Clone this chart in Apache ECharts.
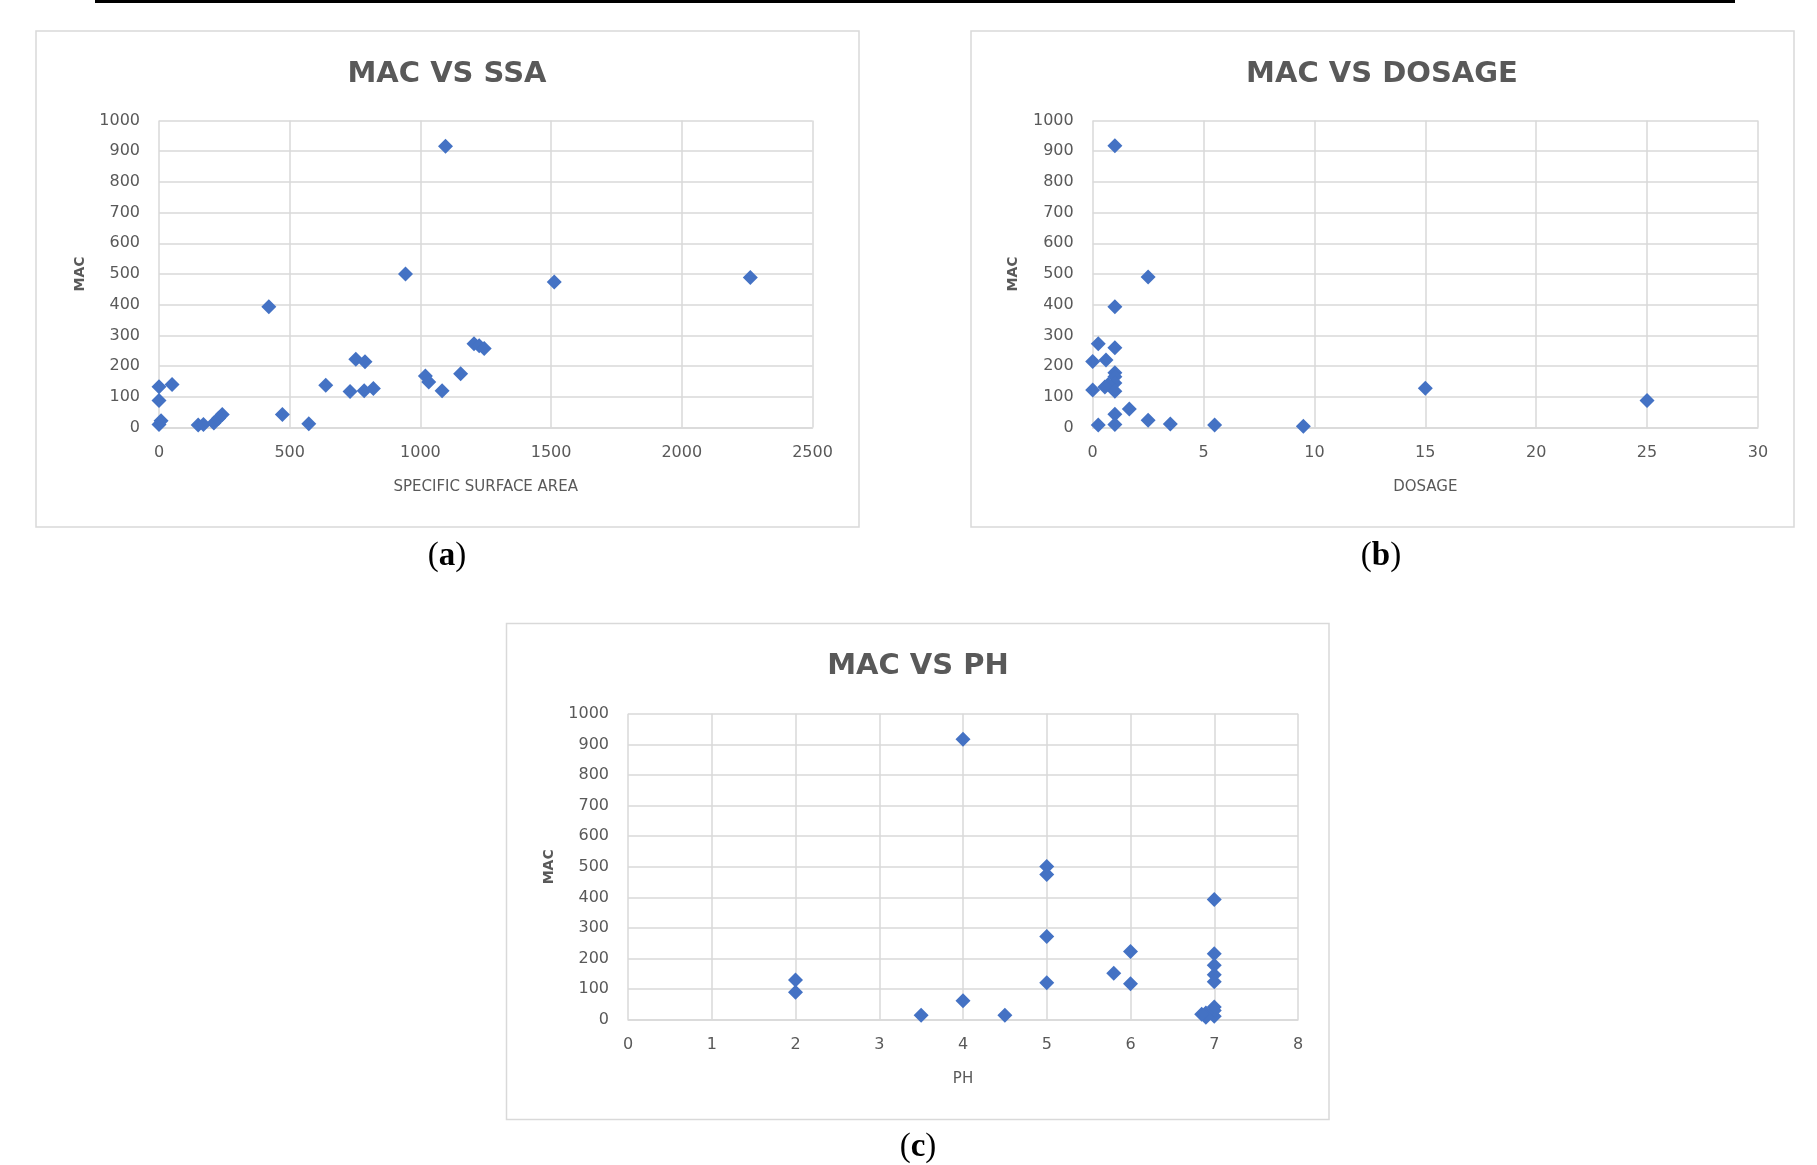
<!DOCTYPE html>
<html>
<head>
<meta charset="utf-8">
<script src="https://cdn.jsdelivr.net/npm/echarts@6/dist/echarts.min.js"></script>
<style>
html,body{margin:0;padding:0;background:#fff;}
#chart{width:1817px;height:1165px;}
</style>
</head>
<body>
<div id="chart"></div>
<script>
// Panel (a): MAC vs specific surface area
const ssaValues = [0, 0, 50, 0, 8, 150, 170, 210, 228, 242, 420, 472, 573, 638, 731, 753, 788, 785, 820, 943, 1019, 1032, 1083, 1096, 1154, 1205, 1225, 1244, 1512, 2262];
const ssaMac    = [133, 88, 140, 10, 22, 8, 10, 15, 30, 42, 393, 42, 12, 138, 117, 222, 214, 120, 127, 500, 168, 148, 120, 916, 175, 273, 266, 257, 474, 489];
// Panel (b): MAC vs dosage
const dosageValues = [1, 2.5, 1, 0.25, 1, 0.6, 0, 1, 1, 1, 0.7, 0.55, 0, 1, 15, 25, 1.65, 1, 2.5, 3.5, 0.25, 5.5, 1, 9.5];
const dosageMac    = [918, 490, 393, 273, 260, 220, 215, 178, 165, 145, 140, 132, 122, 118, 128, 88, 60, 43, 24, 11, 8, 8, 10, 4];
// Panel (c): MAC vs pH
const phValues = [2, 2, 3.5, 4, 4, 4.5, 5, 5, 5, 5, 5.8, 6, 6, 7, 7, 7, 7, 7, 7, 7, 7, 6.9, 6.9, 6.85];
const phMac    = [130, 90, 15, 917, 62, 15, 501, 475, 272, 121, 152, 223, 118, 393, 216, 178, 147, 124, 42, 12, 30, 22, 8, 18];

const panelTitles = ['MAC VS SSA', 'MAC VS DOSAGE', 'MAC VS PH'];
const xNames = ['SPECIFIC SURFACE AREA', 'DOSAGE', 'PH'];
const yName = 'MAC';
const captions = ['a', 'b', 'c'];
const xRanges = [[0, 2500, 500], [0, 30, 5], [0, 8, 1]];
const yRange = [0, 1000, 100];

const pairs = (xs, ys) => xs.map((x, i) => [x, ys[i]]);
const seriesData = [pairs(ssaValues, ssaMac), pairs(dosageValues, dosageMac), pairs(phValues, phMac)];

const grids = [
  {left: 159, top: 120.5, width: 653.5, height: 307},
  {left: 1092.7, top: 120.5, width: 665.2, height: 307},
  {left: 628, top: 713.8, width: 670, height: 306}
];
const boxes = [
  {x: 36, y: 31, w: 823, h: 496},
  {x: 971, y: 31, w: 823, h: 496},
  {x: 506.5, y: 623.5, w: 822.5, h: 496}
];
const titlePos = [[447, 74], [1382, 74], [918, 666]];
const captionPos = [[447, 556], [1381, 556], [918, 1147]];

const gridColor = '#D9D9D9';
const labelColor = '#595959';

const chart = echarts.init(document.getElementById('chart'), null, {renderer: 'canvas'});

const graphic = [];
graphic.push({type: 'line', shape: {x1: 95, y1: 1.5, x2: 1735, y2: 1.5}, style: {stroke: '#000', lineWidth: 3}, z: 1});
boxes.forEach(b => graphic.push({type: 'rect', shape: {x: b.x, y: b.y, width: b.w, height: b.h}, style: {fill: 'none', stroke: gridColor, lineWidth: 1.5}, z: 1}));
panelTitles.forEach((t, i) => graphic.push({
  type: 'text', x: titlePos[i][0], y: titlePos[i][1], z: 5,
  style: {text: t, fill: labelColor, font: 'bold 29px "DejaVu Sans"', align: 'center', verticalAlign: 'middle'}
}));
captions.forEach((c, i) => graphic.push({
  type: 'text', x: captionPos[i][0], y: captionPos[i][1], z: 5,
  style: {
    text: '{p|(}{b|' + c + '}{p|)}', align: 'center', verticalAlign: 'middle',
    rich: {
      p: {fontFamily: 'Liberation Serif', fontSize: 33, color: '#111'},
      b: {fontFamily: 'Liberation Serif', fontSize: 33, fontWeight: 'bold', color: '#111'}
    }
  }
}));

const option = {
  backgroundColor: '#ffffff',
  animation: false,
  grid: grids,
  xAxis: xRanges.map((r, i) => ({
    type: 'value', gridIndex: i, min: r[0], max: r[1], interval: r[2],
    name: xNames[i], nameLocation: 'middle', nameGap: 52,
    nameTextStyle: {color: labelColor, fontFamily: 'DejaVu Sans', fontSize: 15},
    axisLine: {show: true, lineStyle: {color: gridColor, width: 1.5}},
    axisTick: {show: false},
    axisLabel: {color: labelColor, fontFamily: 'DejaVu Sans', fontSize: 16, margin: 17, formatter: v => String(v)},
    splitLine: {show: true, lineStyle: {color: gridColor, width: 1.5}}
  })),
  yAxis: [0, 1, 2].map(i => ({
    type: 'value', gridIndex: i, min: yRange[0], max: yRange[1], interval: yRange[2],
    name: yName, nameLocation: 'middle', nameGap: 72, nameRotate: 90,
    nameTextStyle: {color: labelColor, fontFamily: 'DejaVu Sans', fontSize: 14, fontWeight: 'bold'},
    axisLine: {show: false},
    axisTick: {show: false},
    axisLabel: {color: labelColor, fontFamily: 'DejaVu Sans', fontSize: 16, margin: 19, formatter: v => String(v)},
    splitLine: {show: true, lineStyle: {color: gridColor, width: 1.5}}
  })),
  series: seriesData.map((d, i) => ({
    type: 'scatter', xAxisIndex: i, yAxisIndex: i, data: d,
    symbol: 'diamond', symbolSize: 15,
    itemStyle: {color: '#4472C4', opacity: 1}
  })),
  graphic: graphic
};
chart.setOption(option);
</script>
</body>
</html>
